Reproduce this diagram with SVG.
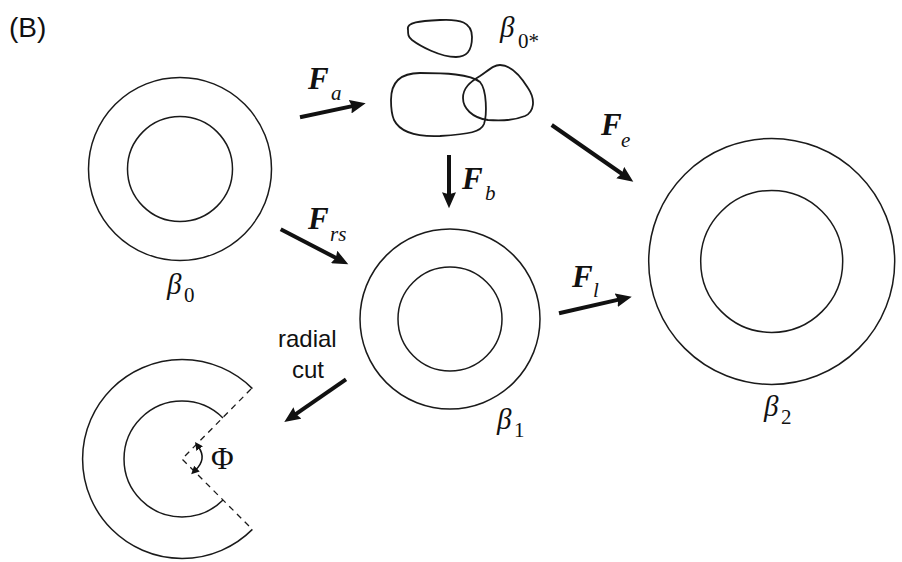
<svg xmlns="http://www.w3.org/2000/svg" width="902" height="562" viewBox="0 0 902 562">
<style>
.ring{fill:none;stroke:#1a1a1a;stroke-width:1.5}
.blob{fill:none;stroke:#1a1a1a;stroke-width:1.8}
.arr{fill:none;stroke:#111;stroke-width:4;marker-end:url(#ah)}
.dash{fill:none;stroke:#1a1a1a;stroke-width:1.3;stroke-dasharray:6 5}
.F{font-family:"Liberation Serif","Times New Roman",serif;font-weight:bold;font-style:italic;font-size:31px;fill:#111}
.sub{font-family:"Liberation Serif","Times New Roman",serif;font-style:italic;font-size:21px;fill:#111}
.beta{font-family:"Liberation Serif","Times New Roman",serif;font-style:italic;font-size:29px;fill:#111}
.num{font-family:"Liberation Serif","Times New Roman",serif;font-size:21px;fill:#111}
.sans{font-family:"Liberation Sans",Arial,sans-serif;font-size:24px;fill:#111}
</style>
<defs>
<marker id="ah" markerUnits="userSpaceOnUse" markerWidth="18" markerHeight="14" viewBox="0 0 18 14" refX="6" refY="7" orient="auto">
<path d="M0,0 L16,7 L0,14 L2,7 z" fill="#111"/>
</marker>
<marker id="sh" markerUnits="userSpaceOnUse" markerWidth="9" markerHeight="8" viewBox="0 0 9 8" refX="2" refY="4" orient="auto-start-reverse">
<path d="M0,0 L8,4 L0,8 z" fill="#111"/>
</marker>
</defs>

<text class="sans" x="9" y="37" style="font-size:28px">(B)</text>

<g id="beta0">
<circle class="ring" cx="180" cy="169" r="91.5"/>
<circle class="ring" cx="180" cy="169" r="52.5"/>
<text class="beta" x="167" y="294">β</text><text class="num" x="184" y="302">0</text>
</g>

<g id="beta0star">
<path class="blob" d="M408,30 C406,22 420,21 440,20 C460,19 472,22 472,37 C472,52 466,57 456,57 C440,57 420,46 412,40 C408,37 408,34 408,30 Z"/>
<path class="blob" d="M391,100 C391,82 400,73 420,73 C445,73 470,74 480,82 C487,90 487,115 484,124 C481,132 470,134 440,136 C415,137 400,132 394,120 C391,113 391,106 391,100 Z"/>
<path class="blob" d="M500,65 C510,65 520,75 528,88 C536,100 534,112 525,116 C515,120 500,121 488,120 C472,118 463,108 463,98 C463,88 470,82 480,76 C490,69 494,65 500,65 Z"/>
<text class="beta" x="500" y="37">β</text><text class="num" x="518" y="48">0*</text>
</g>

<g id="beta1">
<circle class="ring" cx="450" cy="319" r="90"/>
<circle class="ring" cx="450" cy="319" r="52"/>
<text class="beta" x="497" y="429">β</text><text class="num" x="514" y="437">1</text>
</g>

<g id="beta2">
<circle class="ring" cx="771.7" cy="261.4" r="123"/>
<circle class="ring" cx="771.7" cy="261.4" r="71"/>
<text class="beta" x="764" y="416">β</text><text class="num" x="781" y="424">2</text>
</g>

<g id="cutring">
<path class="ring" d="M252.4,388.6 A99.5,99.5 0 1 0 252.4,529.4"/>
<path class="ring" d="M223,418 A58,58 0 1 0 223,500"/>
<path class="dash" d="M251,389 L182,459 L252,529"/>
<path fill="none" stroke="#111" stroke-width="1.5" marker-start="url(#sh)" marker-end="url(#sh)" d="M198.5,447 Q207,459 195.5,470"/>
<text class="beta" x="211" y="469" style="font-style:normal;font-size:31px">Φ</text>
</g>

<g id="connectors">
<line class="arr" x1="300" y1="117.3" x2="355.9" y2="105.4"/>
<line class="arr" x1="551.7" y1="125" x2="625.1" y2="176"/>
<line class="arr" x1="559" y1="313.3" x2="622" y2="298.9"/>
<line class="arr" x1="280.7" y1="229.3" x2="339.4" y2="259.7"/>
<line class="arr" x1="449" y1="155" x2="449" y2="198.3"/>
<line class="arr" x1="346" y1="379.3" x2="292.5" y2="416.3"/>
</g>

<g id="labels">
<text class="F" x="308" y="89">F</text><text class="sub" x="331" y="100">a</text>
<text class="F" x="601" y="135">F</text><text class="sub" x="621" y="147">e</text>
<text class="F" x="572" y="287">F</text><text class="sub" x="593" y="297">l</text>
<text class="F" x="308" y="229">F</text><text class="sub" x="330" y="241">rs</text>
<text class="F" x="462" y="189">F</text><text class="sub" x="485" y="200">b</text>
<text class="sans" x="278" y="347">radial</text>
<text class="sans" x="292" y="378">cut</text>
</g>
</svg>
